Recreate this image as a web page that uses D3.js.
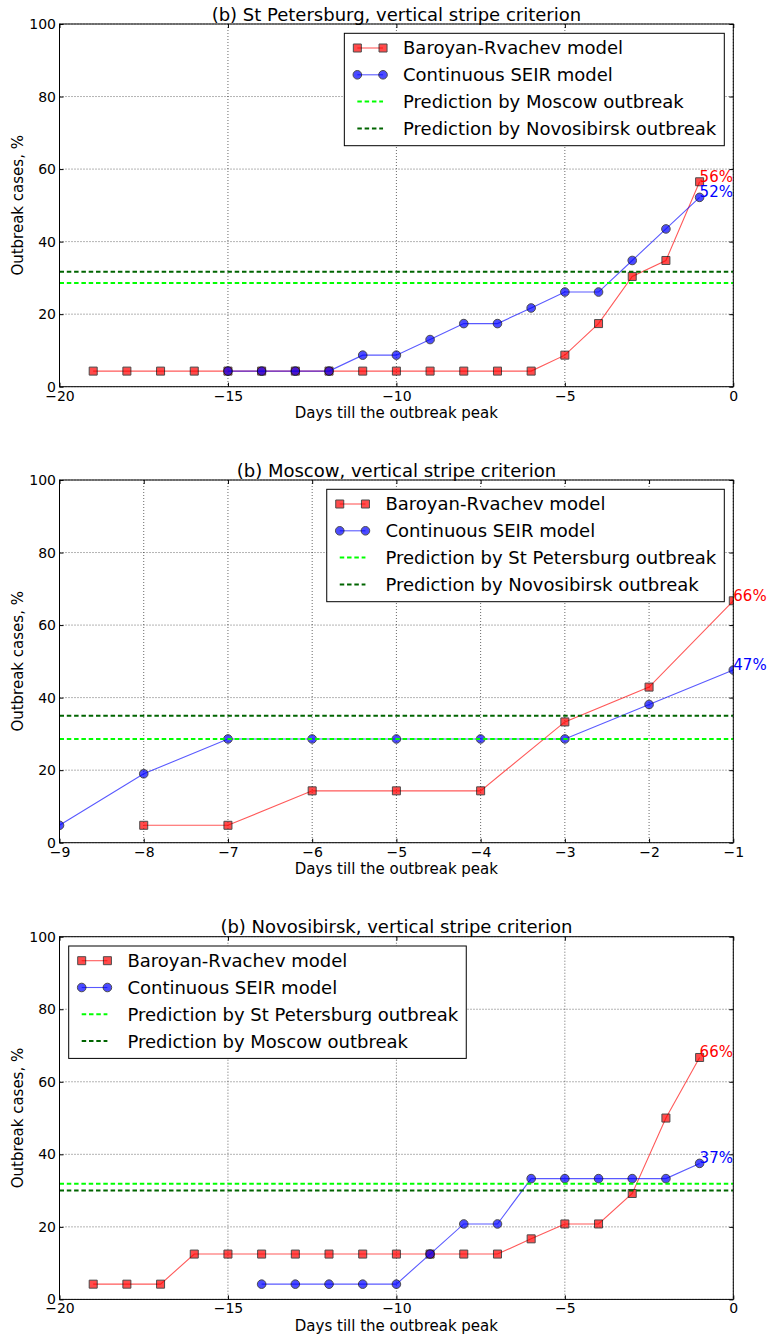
<!DOCTYPE html>
<html>
<head>
<meta charset="utf-8">
<script src="https://cdn.jsdelivr.net/npm/d3@7"></script>
<style>
  body { margin: 0; background: #fff; }
  svg { display: block; font-family: 'DejaVu Sans', sans-serif; }
</style>
</head>
<body>
<svg id="chart"></svg>
<script>
// ---- St Petersburg ----
const spbBrDays = [-19, -18, -17, -16, -15, -14, -13, -12, -11, -10, -9, -8, -7, -6, -5, -4, -3, -2, -1];
const spbBr = [4.3, 4.3, 4.3, 4.3, 4.3, 4.3, 4.3, 4.3, 4.3, 4.3, 4.3, 4.3, 4.3, 4.3, 8.7, 17.4, 30.4, 34.8, 56.5];
const spbSeirDays = [-15, -14, -13, -12, -11, -10, -9, -8, -7, -6, -5, -4, -3, -2, -1];
const spbSeir = [4.3, 4.3, 4.3, 4.3, 8.7, 8.7, 13.0, 17.4, 17.4, 21.7, 26.1, 26.1, 34.8, 43.5, 52.2];
const spbPredNames = ['Prediction by Moscow outbreak', 'Prediction by Novosibirsk outbreak'];
const spbPred = [28.6, 31.7];
const spbTags = ['56%', '52%'];

// ---- Moscow ----
const mskBrDays = [-8, -7, -6, -5, -4, -3, -2, -1];
const mskBr = [4.8, 4.8, 14.3, 14.3, 14.3, 33.3, 42.9, 66.7];
const mskSeirDays = [-9, -8, -7, -6, -5, -4, -3, -2, -1];
const mskSeir = [4.8, 19.0, 28.6, 28.6, 28.6, 28.6, 28.6, 38.1, 47.6];
const mskPredNames = ['Prediction by St Petersburg outbreak', 'Prediction by Novosibirsk outbreak'];
const mskPred = [28.6, 35.0];
const mskTags = ['66%', '47%'];

// ---- Novosibirsk ----
const nskBrDays = [-19, -18, -17, -16, -15, -14, -13, -12, -11, -10, -9, -8, -7, -6, -5, -4, -3, -2, -1];
const nskBr = [4.2, 4.2, 4.2, 12.5, 12.5, 12.5, 12.5, 12.5, 12.5, 12.5, 12.5, 12.5, 12.5, 16.7, 20.8, 20.8, 29.2, 50.0, 66.7];
const nskSeirDays = [-14, -13, -12, -11, -10, -9, -8, -7, -6, -5, -4, -3, -2, -1];
const nskSeir = [4.2, 4.2, 4.2, 4.2, 4.2, 12.5, 20.8, 20.8, 33.3, 33.3, 33.3, 33.3, 33.3, 37.5];
const nskPredNames = ['Prediction by St Petersburg outbreak', 'Prediction by Moscow outbreak'];
const nskPred = [31.9, 30.0];
const nskTags = ['66%', '37%'];

// shared
const longTicks = [-20, -15, -10, -5, 0];
const shortTicks = [-9, -8, -7, -6, -5, -4, -3, -2, -1];
const yTicks = [0, 20, 40, 60, 80, 100];
const seriesNames = ['Baroyan-Rvachev model', 'Continuous SEIR model'];

class OutbreakPanel {

  constructor(_config) {
    this.config = {
      parentElement: _config.parentElement,
      id: _config.id,
      title: _config.title,
      top: _config.top,
      left: 59.5,
      width: 673.8,
      height: 362.7,
      xDomain: _config.xDomain,
      xTicks: _config.xTicks,
      legendSide: _config.legendSide,
      font: 'DejaVu Sans, sans-serif',
      dash: '4.5,2.8'
    };
    this.br = _config.br;
    this.seir = _config.seir;
    this.preds = _config.preds;
    this.tags = _config.tags;
    this.initVis();
  }

  initVis() {
    let vis = this;
    const c = vis.config;

    vis.chartArea = c.parentElement.append('g')
        .attr('transform', `translate(${c.left},${c.top})`);

    vis.xScale = d3.scaleLinear().domain(c.xDomain).range([0, c.width]);
    vis.yScale = d3.scaleLinear().domain([0, 100]).range([c.height, 0]);

    vis.chartArea.append('defs')
        .append('clipPath').attr('id', `clip-${c.id}`)
        .append('rect')
        .attr('width', c.width)
        .attr('height', c.height);

    // dotted grid
    let grid = vis.chartArea.append('g')
        .attr('stroke', '#000')
        .attr('stroke-width', 0.6)
        .attr('stroke-dasharray', '1,2');
    grid.selectAll('.gx').data(c.xTicks).join('line')
        .attr('class', 'gx')
        .attr('x1', d => vis.xScale(d)).attr('x2', d => vis.xScale(d))
        .attr('y1', 0).attr('y2', c.height);
    grid.selectAll('.gy').data(yTicks).join('line')
        .attr('class', 'gy')
        .attr('x1', 0).attr('x2', c.width)
        .attr('y1', d => vis.yScale(d)).attr('y2', d => vis.yScale(d));

    // axes, ticks pointing inward on all four sides
    let styleAxis = g => {
      g.attr('font-size', 14).attr('font-family', c.font);
      g.select('.domain').remove();
      g.selectAll('text').attr('fill', '#000');
    };
    vis.chartArea.append('g')
        .attr('transform', `translate(0,${c.height})`)
        .call(d3.axisBottom(vis.xScale).tickValues(c.xTicks).tickSize(-4).tickSizeOuter(0).tickPadding(4))
        .call(styleAxis);
    vis.chartArea.append('g')
        .call(d3.axisTop(vis.xScale).tickValues(c.xTicks).tickSize(-4).tickSizeOuter(0).tickFormat(''))
        .call(styleAxis);
    vis.chartArea.append('g')
        .call(d3.axisLeft(vis.yScale).tickValues(yTicks).tickSize(-4).tickSizeOuter(0).tickPadding(3.5))
        .call(styleAxis);
    vis.chartArea.append('g')
        .attr('transform', `translate(${c.width},0)`)
        .call(d3.axisRight(vis.yScale).tickValues(yTicks).tickSize(-4).tickSizeOuter(0).tickFormat(''))
        .call(styleAxis);

    // titles
    vis.chartArea.append('text')
        .attr('x', c.width / 2).attr('y', -3.5)
        .attr('text-anchor', 'middle')
        .attr('font-size', 18)
        .text(c.title);
    vis.chartArea.append('text')
        .attr('x', c.width / 2).attr('y', c.height + 31.5)
        .attr('text-anchor', 'middle')
        .attr('font-size', 15)
        .text('Days till the outbreak peak');
    vis.chartArea.append('text')
        .attr('transform', `translate(-37,${c.height / 2}) rotate(-90)`)
        .attr('text-anchor', 'middle')
        .attr('font-size', 15)
        .text('Outbreak cases, %');

    vis.plot = vis.chartArea.append('g')
        .attr('clip-path', `url(#clip-${c.id})`);

    vis.renderVis();
  }

  renderVis() {
    let vis = this;
    const c = vis.config;

    let line = d3.line()
        .x(d => vis.xScale(d[0]))
        .y(d => vis.yScale(d[1]));

    let drawSeries = (s, shape) => {
      let pts = d3.zip(s.days, s.values);
      vis.plot.append('path')
          .datum(pts)
          .attr('d', line)
          .attr('fill', 'none')
          .attr('stroke', s.color)
          .attr('stroke-opacity', 0.65)
          .attr('stroke-width', 1.1);
      vis.plot.append('g').selectAll('path')
          .data(pts)
          .join('path')
          .attr('transform', d => `translate(${vis.xScale(d[0])},${vis.yScale(d[1])})`)
          .attr('d', d3.symbol().type(shape).size(shape === d3.symbolSquare ? 64 : 58))
          .attr('fill', s.color)
          .attr('stroke', '#000')
          .attr('stroke-width', 1)
          .attr('opacity', 0.7);
    };
    drawSeries(vis.br, d3.symbolSquare);
    drawSeries(vis.seir, d3.symbolCircle);

    // horizontal prediction levels
    vis.plot.selectAll('.pred')
        .data(vis.preds)
        .join('line')
        .attr('class', 'pred')
        .attr('x1', 0).attr('x2', c.width)
        .attr('y1', d => vis.yScale(d.value)).attr('y2', d => vis.yScale(d.value))
        .attr('stroke', d => d.color)
        .attr('stroke-width', 2)
        .attr('stroke-dasharray', c.dash);

    // end-value tags
    let lastX = d => vis.xScale(d.days[d.days.length - 1]);
    let lastY = d => vis.yScale(d.values[d.values.length - 1]);
    vis.chartArea.selectAll('.tag')
        .data([vis.br, vis.seir])
        .join('text')
        .attr('class', 'tag')
        .attr('x', d => lastX(d))
        .attr('y', d => lastY(d))
        .attr('fill', d => d.color)
        .attr('font-size', 15)
        .text((d, i) => vis.tags[i]);

    // frame
    vis.chartArea.append('rect')
        .attr('width', c.width).attr('height', c.height)
        .attr('fill', 'none')
        .attr('stroke', '#000')
        .attr('stroke-width', 1);

    vis.renderLegend();
  }

  renderLegend() {
    let vis = this;
    const c = vis.config;
    let items = [
      {name: seriesNames[0], color: vis.br.color, shape: d3.symbolSquare},
      {name: seriesNames[1], color: vis.seir.color, shape: d3.symbolCircle},
      ...vis.preds.map(p => ({name: p.name, color: p.color, shape: null}))
    ];

    let legend = vis.chartArea.append('g');
    let box = legend.append('rect')
        .attr('fill', '#fff')
        .attr('stroke', '#000')
        .attr('stroke-width', 1);

    let rows = legend.selectAll('.row')
        .data(items)
        .join('g')
        .attr('class', 'row')
        .attr('transform', (d, i) => `translate(0,${14.7 + i * 26.8})`);

    rows.append('line')
        .attr('x1', 13).attr('x2', 38.7)
        .attr('stroke', d => d.color)
        .attr('stroke-opacity', d => d.shape ? 0.65 : 1)
        .attr('stroke-width', d => d.shape ? 1.1 : 2)
        .attr('stroke-dasharray', d => d.shape ? null : c.dash);

    rows.filter(d => d.shape).selectAll('path')
        .data(d => [13, 38.7].map(x => ({x: x, d: d})))
        .join('path')
        .attr('transform', e => `translate(${e.x},0)`)
        .attr('d', e => d3.symbol().type(e.d.shape).size(e.d.shape === d3.symbolSquare ? 64 : 58)())
        .attr('fill', e => e.d.color)
        .attr('stroke', '#000')
        .attr('opacity', 0.7);

    let labels = rows.append('text')
        .attr('x', 58.7)
        .attr('dy', '0.36em')
        .attr('font-size', 18)
        .text(d => d.name);

    let maxLen = d3.max(labels.nodes(), n => n.getComputedTextLength());
    let boxW = 58.7 + maxLen + 8;
    let boxH = 112.4;
    box.attr('width', boxW).attr('height', boxH);

    let x0 = c.legendSide === 'right' ? c.width - 9 - boxW : 9.2;
    legend.attr('transform', `translate(${x0},9.3)`);
  }
}

const svg = d3.select('#chart')
    .attr('width', 767)
    .attr('height', 1341);

const red = '#ff0000';
const blue = '#0000ff';
const lime = '#00ff00';
const dark = '#006400';

new OutbreakPanel({
  parentElement: svg, id: 'spb', top: 24,
  title: '(b) St Petersburg, vertical stripe criterion',
  xDomain: [-20, 0], xTicks: longTicks, legendSide: 'right',
  br: {days: spbBrDays, values: spbBr, color: red},
  seir: {days: spbSeirDays, values: spbSeir, color: blue},
  preds: [{name: spbPredNames[0], value: spbPred[0], color: lime},
          {name: spbPredNames[1], value: spbPred[1], color: dark}],
  tags: spbTags
});

new OutbreakPanel({
  parentElement: svg, id: 'msk', top: 480,
  title: '(b) Moscow, vertical stripe criterion',
  xDomain: [-9, -1], xTicks: shortTicks, legendSide: 'right',
  br: {days: mskBrDays, values: mskBr, color: red},
  seir: {days: mskSeirDays, values: mskSeir, color: blue},
  preds: [{name: mskPredNames[0], value: mskPred[0], color: lime},
          {name: mskPredNames[1], value: mskPred[1], color: dark}],
  tags: mskTags
});

new OutbreakPanel({
  parentElement: svg, id: 'nsk', top: 936.7,
  title: '(b) Novosibirsk, vertical stripe criterion',
  xDomain: [-20, 0], xTicks: longTicks, legendSide: 'left',
  br: {days: nskBrDays, values: nskBr, color: red},
  seir: {days: nskSeirDays, values: nskSeir, color: blue},
  preds: [{name: nskPredNames[0], value: nskPred[0], color: lime},
          {name: nskPredNames[1], value: nskPred[1], color: dark}],
  tags: nskTags
});
</script>
</body>
</html>
